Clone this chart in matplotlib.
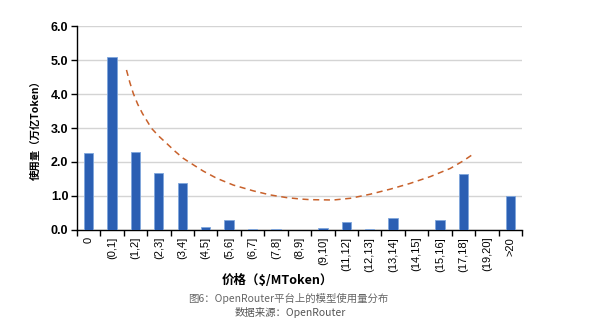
import numpy as np
import matplotlib.pyplot as plt
from matplotlib.ticker import FixedLocator

plt.rcParams['font.family'] = ['Liberation Sans', 'Noto Sans CJK SC', 'DejaVu Sans']

# data
categories = ['0', '(0,1]', '(1,2]', '(2,3]', '(3,4]', '(4,5]', '(5,6]', '(6,7]',
              '(7,8]', '(8,9]', '(9,10]', '(11,12]', '(12,13]', '(13,14]',
              '(14,15]', '(15,16]', '(17,18]', '(19,20]', '>20']
usage = [2.25, 5.09, 2.30, 1.67, 1.39, 0.09, 0.29, 0.02, 0.04, 0.0, 0.05,
         0.22, 0.03, 0.34, 0.01, 0.28, 1.65, 0.01, 0.99]

# dashed trend curve (x in category index units)
trend_x = [1.62, 1.76, 1.91, 2.1, 2.3, 2.69, 3.0, 3.33, 3.7, 4.04, 4.26, 4.9,
           5.47, 6.18, 7.03, 7.75, 8.46, 9.03, 9.46, 10.45, 11.17, 12.02,
           12.88, 13.73, 14.59, 15.44, 16.01, 16.37]
trend_y = [4.71, 4.35, 4.02, 3.70, 3.43, 2.99, 2.76, 2.55, 2.31, 2.11, 2.01, 1.73,
           1.52, 1.32, 1.15, 1.03, 0.95, 0.91, 0.89, 0.88, 0.93, 1.05,
           1.20, 1.37, 1.57, 1.81, 2.04, 2.21]

fig = plt.figure(figsize=(6, 3.27), dpi=100)
ax = fig.add_axes([0.128, 0.297, 0.742, 0.623])

x = np.arange(len(categories))
ax.bar(x, usage, width=0.4, color='#2b5fb3', edgecolor='#7fa6dc', linewidth=0.6, zorder=3)
ax.plot(trend_x, trend_y, linestyle=(0, (4, 3)), color='#c8612b', linewidth=1.1, zorder=4)

ax.set_xlim(-0.5, len(categories) - 0.5)
ax.set_ylim(0, 6)
ax.set_yticks(np.arange(0, 6.1, 1))
ax.set_yticklabels(['%.1f' % v for v in np.arange(0, 6.1, 1)], fontsize=9, fontweight='bold')
ax.yaxis.grid(True, color='#d4d4d4', linewidth=1.0, zorder=0)

ax.set_xticks(x)
ax.set_xticklabels(categories, rotation=90, fontsize=8)
ax.tick_params(axis='x', which='major', length=0, pad=5)
ax.xaxis.set_minor_locator(FixedLocator(np.arange(-0.5, len(categories), 1)))
ax.tick_params(axis='x', which='minor', length=4, width=1, direction='out')
ax.tick_params(axis='y', length=4, width=1, direction='out', pad=2)

for s in ['top', 'right']:
    ax.spines[s].set_visible(False)
ax.spines['left'].set_linewidth(1.0)
ax.spines['bottom'].set_linewidth(1.0)

ax.set_ylabel('使用量（万亿Token）', fontsize=7.5, fontweight='bold', labelpad=7,
              family=['Noto Sans CJK SC', 'DejaVu Sans'])
fig.text(277 / 600, 1 - 280 / 327, '价格（$/MToken）', ha='center', va='center', fontsize=9,
         fontweight='bold', family=['Noto Sans CJK SC', 'DejaVu Sans'])
fig.text(288 / 600, 1 - 298 / 327, '图6：OpenRouter平台上的模型使用量分布', ha='center', va='center',
         fontsize=7.5, color='#666666', family=['Noto Sans CJK SC', 'DejaVu Sans'])
fig.text(290 / 600, 1 - 313 / 327, '数据来源：OpenRouter', ha='center', va='center',
         fontsize=7.5, color='#555555', family=['Noto Sans CJK SC', 'DejaVu Sans'])

plt.savefig('out.png', dpi=100)
